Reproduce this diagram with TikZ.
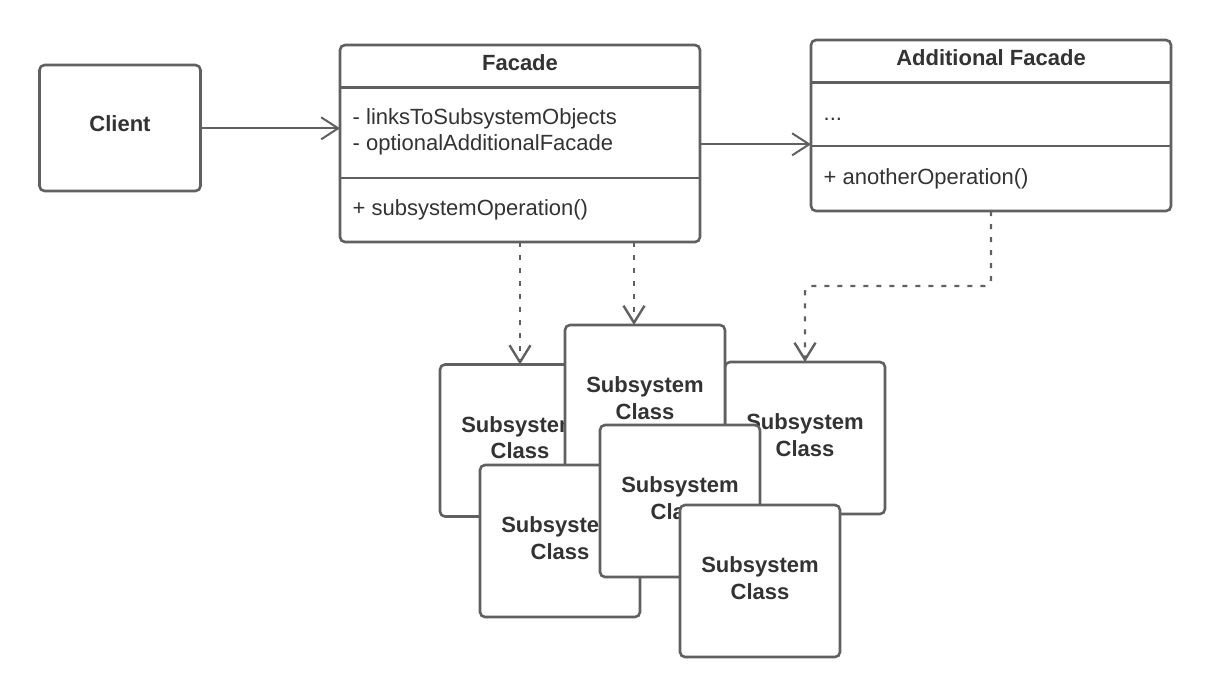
\documentclass[tikz,border=0pt]{standalone}
\usepackage{fontspec}
\setmainfont{Liberation Sans}
\usetikzlibrary{arrows.meta}
\definecolor{edgegray}{RGB}{96,96,96}
\definecolor{textgray}{RGB}{51,51,51}
\begin{document}
\begin{tikzpicture}[x=1pt,y=-1pt,
  box/.style={draw=edgegray, line width=2.6pt, rounded corners=5pt, fill=white, anchor=north west, inner sep=0pt, outer sep=0pt},
  txt/.style={text=textgray, font=\fontsize{22}{26.6}\selectfont, inner sep=0pt},
  btxt/.style={text=textgray, font=\bfseries\fontsize{22}{26.6}\selectfont, inner sep=0pt, align=center},
  divider/.style={draw=edgegray, line width=2.6pt},
  assoc/.style={draw=edgegray, line width=2pt, -{Straight Barb[length=17pt,width=22pt]}},
  dep/.style={draw=edgegray, line width=2.4pt, dash pattern=on 5pt off 8pt, -{Straight Barb[length=17pt,width=21pt]}},
  subbox/.style={box, minimum width=160pt, minimum height=152pt}
]
\path[use as bounding box] (0,0) rectangle (1212,697);

% Client
\node[box, minimum width=161pt, minimum height=126pt] (client) at (39.5,65) {};
\node[btxt, anchor=base] (clientT) at (120,131.7) {Client};

% Facade
\node[box, minimum width=360pt, minimum height=197pt] (facade) at (340,45) {};
\draw[divider] (facade.west |- 0,87.5) -- (facade.east |- 0,87.5);
\draw[divider] (facade.west |- 0,178) -- (facade.east |- 0,178);
\node[btxt, anchor=base] (facadeT) at (520,70.5) {Facade};
\node[txt, anchor=base west] (facadeA1) at (352.5,124) {- linksToSubsystemObjects};
\node[txt, anchor=base west] (facadeA2) at (352.5,150.5) {- optionalAdditionalFacade};
\node[txt, anchor=base west] (facadeM) at (352.5,215.5) {+ subsystemOperation()};

% Additional Facade
\node[box, minimum width=360pt, minimum height=171pt] (addl) at (811,40) {};
\draw[divider] (addl.west |- 0,82.5) -- (addl.east |- 0,82.5);
\draw[divider] (addl.west |- 0,146) -- (addl.east |- 0,146);
\node[btxt, anchor=base] (addlT) at (991,65.7) {Additional Facade};
\node[txt, anchor=base west] (addlA) at (823.5,120) {...};
\node[txt, anchor=base west] (addlM) at (823.5,184) {+ anotherOperation()};

% Subsystem classes (back to front)
\node[subbox] (subA) at (440,364.5) {};
\node[btxt, yshift=3pt] (subAT) at (subA.center) {Subsystem\\Class};
\node[subbox] (subC) at (725,362) {};
\node[btxt, yshift=3pt] (subCT) at (subC.center) {Subsystem\\Class};
\node[subbox] (subB) at (565,325) {};
\node[btxt, yshift=3pt] (subBT) at (subB.center) {Subsystem\\Class};
\node[subbox] (subD) at (480,465) {};
\node[btxt, yshift=3pt] (subDT) at (subD.center) {Subsystem\\Class};
\node[subbox] (subE) at (600,425) {};
\node[btxt, yshift=3pt] (subET) at (subE.center) {Subsystem\\Class};
\node[subbox] (subF) at (680,505) {};
\node[btxt, yshift=3pt] (subFT) at (subF.center) {Subsystem\\Class};

% Connectors
\draw[assoc] (client.east |- 0,128.3) -- (facade.west |- 0,128.3);
\draw[assoc] (facade.east |- 0,144.3) -- (addl.west |- 0,144.3);
\draw[dep] (subA.north |- facade.south) -- (subA.north);
\draw[dep] ([xshift=-11pt]subB.north |- facade.south) -- ([xshift=-11pt]subB.north);
\draw[dep, rounded corners=6pt] (addl.south) -- (addl.south |- 0,286) -| (subC.north);
\end{tikzpicture}
\end{document}
